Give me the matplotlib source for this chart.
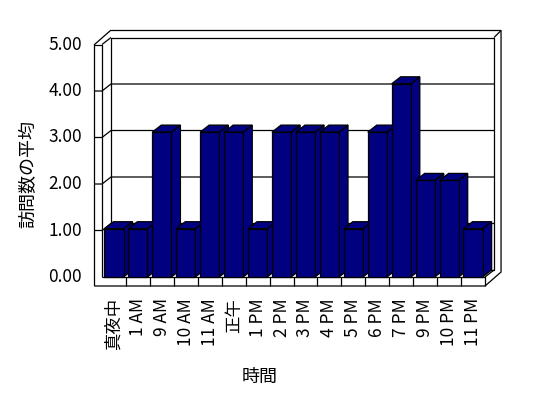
import matplotlib.pyplot as plt
from matplotlib.patches import Polygon

plt.rcParams['font.family'] = ['Noto Sans CJK JP', 'DejaVu Sans']

hours = ['真夜中', '1 AM', '9 AM', '10 AM', '11 AM', '正午', '1 PM', '2 PM',
         '3 PM', '4 PM', '5 PM', '6 PM', '7 PM', '9 PM', '10 PM', '11 PM']
visits = [1, 1, 3, 1, 3, 3, 1, 3, 3, 3, 1, 3, 4, 2, 2, 1]
y_ticks = [0, 1, 2, 3, 4, 5]
y_tick_labels = ['0.00', '1.00', '2.00', '3.00', '4.00', '5.00']

# pixel layout of the fake 3d box (front plane)
X0, CW = 102, 23.94      # px of first category edge, px per category
Y0, VH = 277, 46.5       # px of value 0, px per value unit
W, H = 548, 398
DX, DY = 9 / CW, 7 / VH          # depth of floor / bars
BX, BY = 7 / CW, 7 / VH          # thickness of back wall
LW = 7.5 / CW                    # thickness of left wall
FT = 9 / VH                      # thickness of floor
GAIN = 48.3 / VH                 # bars drawn a bit larger (perspective)
BW = 0.8
NAVY = '#000080'
LWD = 0.9

fig = plt.figure(figsize=(W / 100, H / 100), dpi=100)
ax = fig.add_axes([0, 0, 1, 1])
ax.set_xlim(-0.5 - X0 / CW, -0.5 + (W - X0) / CW)
ax.set_ylim((Y0 - H) / VH, Y0 / VH)
ax.axis('off')

n = len(hours)
xl, xr = -0.5, n - 0.5
top = max(y_ticks)

def line(pts, z=1):
    xs, ys = zip(*pts)
    ax.plot(xs, ys, color='black', lw=LWD, zorder=z, solid_capstyle='butt')

# outer silhouette of walls + floor
outer = [(xl - LW, -FT), (xl - LW, top), (xl - LW + DX + BX, top + DY + BY),
         (xr + DX + BX, top + DY + BY), (xr + DX + BX, -FT + DY + BY), (xr, -FT)]
ax.add_patch(Polygon(outer, closed=True, fc='white', ec='black', lw=LWD, zorder=0))

# back wall inner face
line([(xl + DX, DY), (xr + DX, DY), (xr + DX, top + DY), (xl + DX, top + DY), (xl + DX, DY)])
line([(xr + DX, top + DY), (xr + DX + BX, top + DY + BY)])
line([(xr + DX, DY), (xr, 0)])

# left wall front face
line([(xl, 0), (xl, top), (xl - LW, top)])
line([(xl, top), (xl + DX, top + DY)])

# gridlines + ticks on left wall
for v in y_ticks[1:-1]:
    line([(xl - LW, v), (xl, v), (xl + DX, v + DY), (xr + DX, v + DY)])
for v, lab in zip(y_ticks, y_tick_labels):
    ax.text(-0.5 + (82 - X0) / CW, v, lab, ha='right', va='center', fontsize=12.5)

# floor front face with category cells
line([(xl, 0), (xr, 0), (xr, -FT)])
for k in range(1, n):
    line([(xl + k, 0), (xl + k, -FT)])

# bars
for i, v in enumerate(visits):
    h = v * GAIN
    a, b = i - BW / 2, i + BW / 2
    z = 2 + i
    ax.add_patch(Polygon([(b, 0), (b + DX, DY), (b + DX, h + DY), (b, h)],
                         fc=NAVY, ec='black', lw=LWD, zorder=z))
    ax.add_patch(Polygon([(a, h), (b, h), (b + DX, h + DY), (a + DX, h + DY)],
                         fc=NAVY, ec='black', lw=LWD, zorder=z))
    ax.add_patch(Polygon([(a, 0), (b, 0), (b, h), (a, h)],
                         fc=NAVY, ec='black', lw=LWD, zorder=z))

for i, lab in enumerate(hours):
    ax.text(i, (Y0 - 298) / VH, lab, rotation=90, ha='center', va='top', fontsize=12.5)

ax.text(-0.5 + (260 - X0) / CW, (Y0 - 377) / VH, '時間', ha='center', va='center', fontsize=13)
ax.text(-0.5 + (28 - X0) / CW, (Y0 - 174) / VH, '訪問数の平均', rotation=90,
        ha='center', va='center', fontsize=13)

fig.savefig('out.png', dpi=100)
